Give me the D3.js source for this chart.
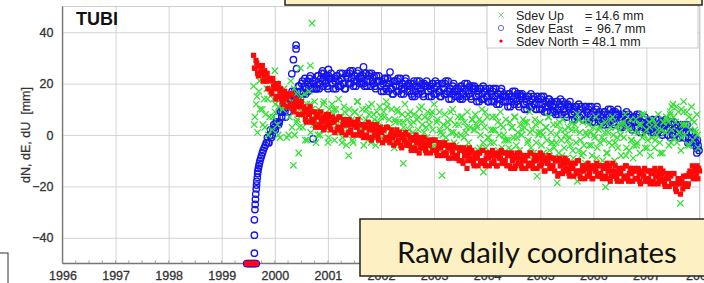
<!DOCTYPE html>
<html>
<head>
<meta charset="utf-8">
<script src="https://cdn.jsdelivr.net/npm/d3@7"></script>
<style>
html, body { margin: 0; padding: 0; background: #fff; }
svg { display: block; }
</style>
</head>
<body>
<script>
// ---- data (mm) ----
const station = "TUBI";
const yLabel = "dN, dE, dU  [mm]";
const yearTicks = [1996, 1997, 1998, 1999, 2000, 2001, 2002, 2003, 2004, 2005, 2006, 2007, 2008];
const mmTicks = [40, 20, 0, -20, -40];
const legendLabels = ["Sdev Up", "Sdev East", "Sdev North"];
const legendValues = ["14.6 mm", "96.7 mm", "48.1 mm"];
const boxText = "Raw daily coordinates";

// daily series: values at a fixed step from a start epoch (decimal years),
// two interleaved passes per component
const northStart = 1999.60, northStep = 0.03;
const northDaily = [
  31, 26, 28, 23, 27, 24, 21, 25, 21, 18,
  22, 17, 22, 18, 14, 18, 15, 18, 13, 15,
  15, 11, 15, 12, 16, 10, 12, 13, 8, 11,
  13, 8, 10, 5, 10, 8, 5, 9, 6, 3,
  8, 4, 9, 5, 2, 6, 4, 8, 3, 5,
  6, 1, 6, 3, 7, 2, 4, 6, 0, 4,
  6, 2, 4, 0, 5, 3, 0, 4, 1, -1,
  4, 0, 5, 2, -2, 2, 0, 4, -1, 1,
  2, -3, 2, -1, 3, -2, 0, 1, -4, 0,
  2, -2, 0, -5, 0, -2, -4, 0, -4, -6,
  -1, -5, 0, -3, -7, -3, -5, -1, -6, -4,
  -3, -7, -2, -6, -2, -7, -5, -3, -8, -4,
  -3, -7, -5, -9, -4, -7, -9, -5, -8, -10,
  -5, -10, -5, -8, -13, -7, -9, -6, -11, -9,
  -8, -12, -7, -10, -6, -11, -9, -7, -12, -8,
  -6, -10, -8, -12, -7, -9, -11, -7, -10, -12,
  -7, -12, -7, -9, -13, -9, -11, -7, -12, -10,
  -9, -13, -8, -11, -7, -12, -10, -8, -13, -9,
  -7, -11, -10, -14, -9, -11, -13, -9, -12, -14,
  -10, -16, -9, -12, -15, -11, -13, -10, -15, -13,
  -12, -16, -11, -14, -10, -16, -14, -12, -17, -13,
  -11, -15, -13, -17, -12, -14, -16, -12, -15, -17,
  -12, -16, -11, -14, -18, -14, -16, -12, -17, -15,
  -14, -18, -13, -16, -12, -17, -15, -13, -18, -14,
  -13, -17, -15, -19, -14, -16, -18, -14, -17, -19,
  -14, -18, -13, -16, -19, -15, -17, -14, -19, -17,
  -16, -20, -16, -19, -15, -21, -19, -17, -23, -18,
  -16, -19, -16, -19, -14, -15, -17, -13, -15, -17,
  -14
];
const northStart2 = 1999.615;
const northDaily2 = [
  26, 29, 24, 27, 25, 27, 23, 21, 24, 22,
  21, 16, 19, 20, 15, 20, 17, 14, 12, 17,
  14, 16, 11, 16, 12, 9, 14, 11, 12, 8,
  8, 11, 6, 9, 8, 11, 6, 5, 9, 7,
  7, 3, 6, 7, 3, 8, 6, 4, 2, 7,
  5, 6, 2, 7, 3, 1, 6, 4, 4, 1,
  1, 5, 0, 4, 3, 6, 1, 0, 4, 3,
  3, -1, 2, 4, -1, 4, 2, 0, -2, 3,
  1, 2, -2, 3, -1, -3, 2, -1, 0, -3,
  -3, 1, -4, -1, -2, 1, -3, -4, -1, -2,
  -2, -6, -3, -1, -5, -1, -3, -5, -7, -2,
  -4, -2, -6, -2, -6, -8, -3, -5, -4, -7,
  -8, -4, -9, -5, -6, -4, -8, -9, -5, -6,
  -6, -11, -8, -6, -10, -5, -7, -10, -12, -7,
  -9, -7, -11, -6, -10, -12, -7, -9, -8, -11,
  -11, -7, -12, -8, -9, -6, -10, -11, -7, -8,
  -8, -13, -10, -8, -12, -7, -9, -11, -13, -8,
  -10, -8, -12, -7, -11, -13, -8, -10, -9, -12,
  -12, -8, -14, -10, -11, -8, -12, -13, -9, -10,
  -10, -15, -12, -10, -14, -9, -11, -14, -16, -11,
  -13, -11, -15, -10, -14, -17, -12, -14, -13, -16,
  -16, -12, -17, -13, -14, -11, -15, -16, -12, -13,
  -13, -17, -14, -12, -16, -11, -14, -16, -18, -13,
  -15, -13, -17, -12, -16, -18, -13, -15, -14, -17,
  -17, -13, -18, -15, -16, -13, -17, -18, -14, -15,
  -15, -19, -16, -14, -18, -13, -15, -18, -20, -15,
  -17, -15, -19, -15, -19, -22, -17, -19, -18, -21,
  -20, -16, -20, -15, -16, -12, -16, -17, -12, -13
];

// steep start of the East component: [year, mm]
const eastRise = [
  [1999.615, -46], [1999.615, -39], [1999.615, -33], [1999.625, -29], [1999.63, -27],
  [1999.635, -25], [1999.64, -23], [1999.65, -21], [1999.655, -19.5], [1999.66, -18],
  [1999.67, -16.5], [1999.675, -15], [1999.68, -14], [1999.69, -13], [1999.70, -12],
  [1999.71, -11], [1999.72, -10], [1999.735, -9], [1999.75, -8], [1999.765, -7],
  [1999.78, -6], [1999.80, -5], [1999.82, -4], [1999.84, -3]
];
const eastStart = 1999.86, eastStep = 0.03;
const eastDaily = [
  -1, -3, 2, 0, 4, 2, 7, 4, 9, 7,
  12, 9, 12, 9, 15, 14, 13, 17, 15, 14,
  19, 16, 21, 19, 16, 21, 19, 23, 18, 20,
  21, 18, 23, 20, 24, 19, 21, 23, 18, 22,
  24, 20, 22, 18, 23, 21, 19, 24, 20, 18,
  24, 20, 25, 22, 19, 23, 21, 25, 20, 22,
  23, 19, 24, 21, 24, 19, 21, 23, 18, 21,
  23, 19, 21, 17, 22, 20, 17, 21, 18, 16,
  21, 17, 22, 19, 16, 20, 18, 22, 17, 19,
  20, 15, 21, 17, 21, 16, 18, 20, 15, 19,
  21, 17, 19, 15, 20, 18, 16, 20, 17, 15,
  20, 16, 21, 17, 14, 18, 16, 20, 15, 17,
  18, 14, 19, 16, 20, 15, 17, 19, 14, 18,
  19, 15, 17, 13, 18, 16, 14, 18, 15, 13,
  17, 13, 18, 15, 12, 16, 14, 18, 13, 15,
  15, 11, 16, 13, 17, 12, 14, 16, 11, 15,
  16, 12, 14, 10, 15, 13, 11, 15, 12, 10,
  14, 10, 15, 12, 9, 13, 11, 14, 9, 11,
  12, 8, 13, 10, 14, 8, 10, 12, 7, 11,
  13, 8, 10, 6, 11, 9, 7, 11, 8, 6,
  11, 6, 11, 8, 5, 9, 7, 11, 6, 7,
  8, 4, 9, 6, 10, 5, 7, 9, 4, 8,
  10, 5, 7, 3, 8, 6, 4, 8, 5, 2,
  7, 3, 8, 5, 1, 5, 3, 7, 2, 4,
  5, 1, 6, 3, 6, 1, 3, 5, 0, 4,
  6, 2, 3, -1, 4, 2, 0, 4, 1, -1,
  3, -1, 4, 1, -3, 1, -2, 1, -4, -3,
  -2, -6
];
const eastStart2 = 1999.875;
const eastDaily2 = [
  -3, 0, -1, 2, 3, 5, 5, 5, 9, 9,
  10, 7, 11, 14, 11, 17, 16, 14, 13, 19,
  17, 20, 16, 22, 18, 17, 22, 20, 21, 18,
  18, 23, 18, 22, 21, 24, 20, 19, 23, 22,
  22, 18, 21, 23, 19, 24, 22, 20, 18, 23,
  22, 24, 20, 25, 21, 19, 24, 22, 23, 20,
  20, 24, 19, 23, 21, 24, 20, 19, 23, 21,
  21, 17, 20, 22, 18, 22, 20, 18, 16, 21,
  19, 21, 17, 22, 18, 16, 21, 19, 20, 17,
  16, 20, 15, 19, 18, 21, 17, 16, 20, 19,
  19, 15, 18, 20, 16, 21, 19, 17, 15, 20,
  18, 20, 16, 21, 17, 14, 19, 17, 18, 15,
  15, 19, 14, 18, 17, 20, 16, 15, 19, 18,
  18, 13, 16, 18, 14, 19, 17, 15, 13, 18,
  16, 17, 13, 18, 14, 12, 17, 15, 16, 13,
  13, 16, 11, 15, 14, 17, 13, 12, 16, 15,
  15, 10, 13, 15, 11, 16, 14, 12, 10, 15,
  12, 14, 10, 15, 11, 9, 14, 12, 13, 9,
  9, 13, 8, 12, 11, 13, 9, 8, 12, 11,
  11, 6, 9, 11, 7, 12, 10, 8, 6, 11,
  9, 10, 6, 11, 7, 5, 10, 8, 9, 5,
  5, 9, 4, 8, 7, 10, 6, 5, 9, 8,
  8, 3, 6, 8, 4, 9, 7, 5, 3, 7,
  5, 7, 3, 8, 4, 1, 6, 4, 5, 2,
  2, 6, 1, 4, 3, 6, 2, 1, 5, 4,
  4, 0, 3, 5, 0, 5, 3, 1, -1, 4,
  1, 3, -1, 4, -1, -3, 1, -2, -1, -5,
  -4
];
const eastOutliers = [
  [2000.40, 35], [2000.40, 33.5], [2000.35, 29.3], [2000.41, 25.8], [2000.32, 23.8],
  [2000.72, -1.5], [2000.90, 25], [2001.01, 25.5], [2001.67, 26.5], [2002.17, 24.5],
  [2007.95, -7]
];

const upStart = 1999.60, upStep = 0.025;
const upDaily = [
  19, 7, 12, 1, 17, 10, 22, 4, 14, 8, 18, 0,
  7, 17, 2, 14, 9, 20, 4, 11, -1, 16, 10, 18,
  13, -1, 15, 7, 21, 3, 11, 0, 16, 6, -7, 10,
  15, 3, 8, -2, 12, 6, 17, 1, 10, 4, 13, -3,
  4, 10, 0, 9, 4, 13, 2, 7, -3, 10, 5, 12,
  8, -2, 10, 4, 14, 1, 7, -1, 11, 3, -4, 6,
  10, 2, 6, -3, 9, 4, 13, 0, 7, 3, 10, -4,
  3, 10, -2, 8, 4, 12, 1, 6, -4, 9, 5, 11,
  7, -3, 9, 3, 13, 0, 6, -2, 10, 2, -5, 5,
  10, 1, 5, -4, 8, 3, 12, -2, 6, 2, 9, -5,
  1, 8, -3, 6, 2, 10, -1, 4, -5, 7, 3, 9,
  6, -5, 8, 2, 12, -2, 5, -4, 9, 1, -7, 4,
  8, -1, 3, -5, 6, 1, 10, -3, 4, 0, 7, -6,
  0, 7, -5, 5, 1, 9, -3, 3, -7, 6, 2, 8,
  4, -6, 6, 0, 10, -3, 3, -5, 7, -1, -8, 2,
  7, -3, 2, -7, 5, 0, 9, -5, 3, -2, 6, -8,
  -2, 5, -6, 3, -1, 7, -4, 1, -8, 4, 0, 6,
  3, -8, 5, -2, 9, -5, 2, -7, 6, -3, -10, 1,
  5, -4, 0, -8, 3, -2, 7, -6, 1, -3, 4, -9,
  -3, 4, -7, 2, -2, 6, -5, 0, -9, 3, -1, 5,
  2, -9, 4, -3, 8, -6, 1, -8, 5, -4, -11, 0,
  6, -4, 1, -8, 3, -1, 7, -5, 2, -3, 4, -10,
  -2, 5, -7, 1, -3, 6, -4, 0, -10, 3, -1, 4,
  2, -8, 4, -1, 8, -5, 3, -6, 6, -2, -9, 1,
  6, -3, 1, -7, 4, -1, 8, -5, 2, -2, 5, -8,
  -1, 6, -5, 4, 0, 8, -3, 2, -7, 5, 1, 7,
  6, -4, 8, 2, 12, -1, 5, -3, 9, 1, -6, 4,
  9, 0, 4, -4, 7, 2, 11, -2, 5, 1, 8, -5
];
const upStart2 = 1999.6125, upStep2 = 0.05;
const upDaily2 = [
  4, 15, 21, 10, 3, 14, 18, 7, 12, 0, 17, 11,
  11, 0, 13, 18, 5, 3, 9, 16, -2, 12, 7, 4,
  0, 8, 12, 4, -1, 7, 10, 2, 6, -3, 9, 5,
  7, -2, 9, 13, 3, 1, 6, 11, -3, 8, 4, 2,
  -1, 7, 11, 3, -2, 6, 9, 1, 5, -4, 8, 4,
  5, -3, 7, 11, 1, -1, 4, 9, -4, 6, 2, 0,
  -3, 5, 9, 1, -4, 4, 7, -1, 3, -6, 6, 2,
  3, -5, 5, 9, -1, -3, 2, 7, -6, 4, 0, -2,
  -5, 3, 7, -1, -6, 2, 5, -3, 1, -8, 4, 0,
  1, -7, 3, 7, -3, -5, 0, 5, -8, 2, -2, -4,
  -6, 2, 6, -2, -7, 1, 4, -4, 0, -9, 3, -1,
  1, -7, 3, 7, -3, -5, 0, 5, -8, 2, -2, -4,
  -4, 4, 8, 0, -5, 3, 6, -2, 2, -7, 5, 1,
  5, -3, 7, 11, 1, -1, 4, 9, -4, 6, 2, 0
];
const upOutliers = [
  [2000.70, 43.5], [2000.00, 25], [2000.67, 27], [2000.48, 26], [2000.35, -11.8],
  [2001.39, -8], [2002.42, -11], [2003.15, -15.7], [2003.93, -14.4], [2004.94, -16],
  [2005.32, -18.6], [2005.70, -18], [2006.23, -20.2], [2007.64, -26.6],
  [2007.45, 9], [2007.48, 11], [2007.66, 10], [2007.70, 13]
];

// epochs stuck at the bottom of the scale (-50 mm), North and East
const clippedEpochs = [1999.47, 1999.49, 1999.51, 1999.53, 1999.55, 1999.57, 1999.59, 1999.61, 1999.63, 1999.65];
const clippedValue = -50;

// ---- chart ----
const width = 704, height = 283;
const font = "'Liberation Sans', Arial, sans-serif";
const svg = d3.select("body").append("svg")
  .attr("width", width)
  .attr("height", height)
  .style("font-family", font);

const x = d3.scaleLinear().domain([1996, 2008]).range([62.5, 699.5]);
const y = d3.scaleLinear().domain([-50, 50]).range([263.5, 6.5]);

const series = (vals, t0, dt) => vals.map((v, i) => ({t: t0 + i * dt, v}));
const pairs = arr => arr.map(d => ({t: d[0], v: d[1]}));

const north = series(northDaily, northStart, northStep)
  .concat(series(northDaily2, northStart2, northStep));
const east = pairs(eastRise)
  .concat(series(eastDaily, eastStart, eastStep))
  .concat(series(eastDaily2, eastStart2, eastStep))
  .concat(pairs(eastOutliers));
const up = series(upDaily, upStart, upStep)
  .concat(series(upDaily2, upStart2, upStep2))
  .concat(pairs(upOutliers));
const clipped = clippedEpochs.map(t => ({t, v: clippedValue}));

// grid
svg.append("g")
  .attr("transform", "translate(0," + y.range()[0] + ")")
  .call(d3.axisBottom(x).tickValues(yearTicks).tickSize(-(y.range()[0] - y.range()[1])).tickFormat(""))
  .call(g => g.select(".domain").remove())
  .call(g => g.selectAll("line").attr("stroke", "#cfcfcf").attr("stroke-width", 0.9));
svg.append("g")
  .attr("transform", "translate(" + x.range()[0] + ",0)")
  .call(d3.axisLeft(y).tickValues(mmTicks).tickSize(-(x.range()[1] - x.range()[0])).tickFormat(""))
  .call(g => g.select(".domain").remove())
  .call(g => g.selectAll("line").attr("stroke", "#cfcfcf").attr("stroke-width", 0.9));

// frame
svg.append("rect")
  .attr("x", x.range()[0]).attr("y", y.range()[1])
  .attr("width", x.range()[1] - x.range()[0])
  .attr("height", y.range()[0] - y.range()[1])
  .attr("fill", "none").attr("stroke", "#c4c4c4").attr("stroke-width", 0.8);
svg.append("line")
  .attr("x1", x.range()[0]).attr("x2", x.range()[0])
  .attr("y1", y.range()[1]).attr("y2", y.range()[0])
  .attr("stroke", "#777").attr("stroke-width", 1.3);
svg.append("line")
  .attr("x1", x.range()[0]).attr("x2", x.range()[1])
  .attr("y1", y.range()[0]).attr("y2", y.range()[0])
  .attr("stroke", "#777").attr("stroke-width", 1.3);

// minor ticks on the time axis
const minor = d3.range(1996, 2008.001, 0.25);
svg.append("g").selectAll("line").data(minor).join("line")
  .attr("x1", d => x(d)).attr("x2", d => x(d))
  .attr("y1", y.range()[0]).attr("y2", y.range()[0] - 3)
  .attr("stroke", "#888").attr("stroke-width", 0.8);

// axis labels
const styleLabels = g => g.selectAll("text")
  .attr("fill", "#333").attr("stroke", "#333").attr("stroke-width", 0.3)
  .style("font-size", "12.5px").style("font-family", font);
svg.append("g")
  .attr("transform", "translate(0," + y.range()[0] + ")")
  .call(d3.axisBottom(x).tickValues(yearTicks).tickFormat(d3.format("d")).tickSize(0).tickPadding(7.5))
  .call(g => g.select(".domain").remove())
  .call(styleLabels);
svg.append("g")
  .attr("transform", "translate(" + x.range()[0] + ",0)")
  .call(d3.axisLeft(y).tickValues(mmTicks).tickSize(0).tickPadding(9))
  .call(g => g.select(".domain").remove())
  .call(styleLabels);

svg.append("text")
  .attr("transform", "translate(30," + y(0) + ") rotate(-90)")
  .attr("text-anchor", "middle")
  .attr("fill", "#333").attr("stroke", "#333").attr("stroke-width", 0.25)
  .style("font-size", "12.5px")
  .style("white-space", "pre")
  .text(yLabel);

svg.append("text")
  .attr("x", 76).attr("y", 25)
  .attr("font-weight", "bold")
  .attr("fill", "#111")
  .style("font-size", "18px")
  .text(station);

// markers: East circles, Up crosses, North squares
const cross = "M-3.2,-3.2L3.2,3.2M-3.2,3.2L3.2,-3.2";
svg.append("g").selectAll("circle").data(east.concat(clipped)).join("circle")
  .attr("cx", d => x(d.t)).attr("cy", d => y(d.v)).attr("r", 3.2)
  .attr("fill", "none").attr("stroke", "#1414f0").attr("stroke-width", 1.35);
svg.append("g").selectAll("path").data(up).join("path")
  .attr("transform", d => "translate(" + x(d.t) + "," + y(d.v) + ")")
  .attr("d", cross)
  .attr("fill", "none").attr("stroke", "#35e035").attr("stroke-width", 1.25);
svg.append("g").selectAll("rect").data(north.concat(clipped)).join("rect")
  .attr("x", d => x(d.t) - 2.6).attr("y", d => y(d.v) - 2.6)
  .attr("width", 5.2).attr("height", 5.2)
  .attr("fill", "#ff0808");

// legend
const lg = svg.append("g");
lg.append("rect").attr("x", 487).attr("y", 3).attr("width", 211).attr("height", 45)
  .attr("fill", "#fff").attr("stroke", "#bbb").attr("stroke-width", 0.8);
const rowY = [15, 28, 41];
lg.append("path").attr("transform", "translate(501," + rowY[0] + ")")
  .attr("d", "M-2.6,-2.6L2.6,2.6M-2.6,2.6L2.6,-2.6").attr("stroke", "#7ad87a").attr("stroke-width", 1);
lg.append("circle").attr("cx", 501).attr("cy", rowY[1]).attr("r", 2.6)
  .attr("fill", "none").attr("stroke", "#6a6ad0").attr("stroke-width", 1);
lg.append("circle").attr("cx", 501).attr("cy", rowY[2]).attr("r", 1.6).attr("fill", "#e00");
const eqX = [585, 585, 582], valX = [595, 597, 592];
legendLabels.forEach((lab, i) => {
  const row = lg.append("g").attr("fill", "#222").style("font-size", "12.5px");
  row.append("text").attr("x", 516).attr("y", rowY[i] + 4.5).text(lab);
  row.append("text").attr("x", eqX[i]).attr("y", rowY[i] + 4.5).text("=");
  row.append("text").attr("x", valX[i]).attr("y", rowY[i] + 4.5).text(legendValues[i]);
});

// slide overlays
svg.append("rect").attr("x", 285).attr("y", -10).attr("width", 417).attr("height", 15)
  .attr("fill", "#fdf0c3").attr("stroke", "#222").attr("stroke-width", 1.5);
svg.append("rect").attr("x", -5).attr("y", 253).attr("width", 13).attr("height", 40)
  .attr("fill", "#fff").attr("stroke", "#333").attr("stroke-width", 1);
svg.append("rect").attr("x", 360).attr("y", 219).attr("width", 360).attr("height", 57)
  .attr("fill", "#fdf0c3").attr("stroke", "#222").attr("stroke-width", 1.5);
const bt = svg.append("text")
  .attr("x", 397).attr("y", 263)
  .attr("fill", "#111")
  .style("font-family", "Lato, 'Open Sans', sans-serif")
  .style("font-size", "28px")
  .text(boxText);
const w = bt.node().getComputedTextLength();
bt.style("font-size", (28 * 280 / w).toFixed(2) + "px");
</script>
</body>
</html>
